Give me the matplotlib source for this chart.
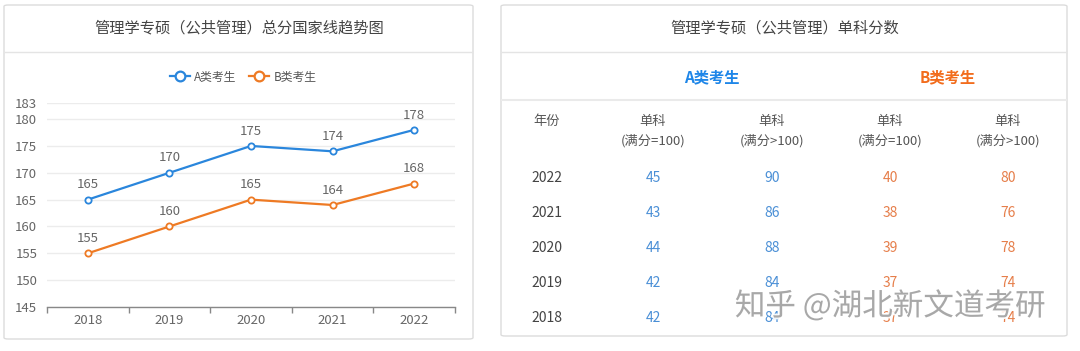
import matplotlib
matplotlib.use("Agg")
import matplotlib.pyplot as plt
from matplotlib.patches import FancyBboxPatch
from matplotlib.lines import Line2D
import matplotlib.patheffects as pe

plt.rcParams['font.family'] = ['Noto Sans CJK SC', 'DejaVu Sans']

# ---- data ----
years = ["2018", "2019", "2020", "2021", "2022"]
a_total = [165, 170, 175, 174, 178]
b_total = [155, 160, 165, 164, 168]
y_ticks = [145, 150, 155, 160, 165, 170, 175, 180, 183]

table_years = ["2022", "2021", "2020", "2019", "2018"]
a_single100 = [45, 43, 44, 42, 42]
a_single_gt100 = [90, 86, 88, 84, 84]
b_single100 = [40, 38, 39, 37, 37]
b_single_gt100 = [80, 76, 78, 74, 74]

left_title = "管理学专硕（公共管理）总分国家线趋势图"
right_title = "管理学专硕（公共管理）单科分数"
series_names = ["A类考生", "B类考生"]
col_header = "单科"
col_subs = ["(满分=100)", "(满分>100)", "(满分=100)", "(满分>100)"]
watermark = "知乎 @湖北新文道考研"

BLUE = "#2a86dc"
ORANGE = "#ee7a24"
TBLUE = "#4a8fd6"
TORANGE = "#e67e4a"
GRAY_TXT = "#555555"

W, H = 1080, 351
fig = plt.figure(figsize=(W / 100, H / 100), dpi=100)
fig.patch.set_facecolor("white")


def fx(x):
    return x / W


def fy(y):
    return 1 - y / H


def card(x0, y0, x1, y1):
    p = FancyBboxPatch((fx(x0), fy(y1)), fx(x1 - x0), (y1 - y0) / H,
                       boxstyle="round,pad=0,rounding_size=0.004",
                       transform=fig.transFigure, facecolor="white",
                       edgecolor="#dcdcdc", linewidth=1.0, zorder=-10)
    fig.patches.append(p)


def hline(x0, x1, y, color="#e4e4e4", lw=1.0):
    fig.lines.append(Line2D([fx(x0), fx(x1)], [fy(y), fy(y)],
                            transform=fig.transFigure, color=color, lw=lw, zorder=-5))


# ---- left card ----
card(4, 5, 473, 339)
hline(5, 472, 52)
fig.text(fx(239), fy(28), left_title, ha="center", va="center",
         fontsize=11, color="#444444")

ax = fig.add_axes([fx(47), fy(307), fx(455 - 47), (307 - 103) / H])
ax.patch.set_alpha(0)
x = list(range(len(years)))
l1, = ax.plot(x, a_total, color=BLUE, lw=1.6, marker="o", ms=4.5,
              mfc="white", mec=BLUE, mew=1.3, zorder=3, label=series_names[0])
l2, = ax.plot(x, b_total, color=ORANGE, lw=1.6, marker="o", ms=4.5,
              mfc="white", mec=ORANGE, mew=1.3, zorder=3, label=series_names[1])
for xs, ys in [(x, a_total), (x, b_total)]:
    for xi, yi in zip(xs, ys):
        ax.annotate(str(yi), (xi, yi), xytext=(0, 6), textcoords="offset points",
                    ha="center", va="bottom", fontsize=9.5, color="#666666")

ax.set_xlim(-0.5, len(years) - 0.5)
ax.set_ylim(145, 183)
ax.set_yticks(y_ticks)
ax.set_yticklabels([str(t) for t in y_ticks])
ax.set_xticks(x)
ax.set_xticklabels(years)
ax.set_xticks([i - 0.5 for i in range(len(years) + 1)], minor=True)
ax.tick_params(axis="x", which="major", length=0, pad=5, labelsize=9.5, labelcolor="#666666")
ax.tick_params(axis="x", which="minor", length=4, width=1, color="#888888", direction="out")
ax.tick_params(axis="y", length=0, pad=7, labelsize=9.5, labelcolor="#666666")
ax.grid(axis="y", color="#ececec", lw=1)
ax.set_axisbelow(True)
for s in ["top", "right", "left"]:
    ax.spines[s].set_visible(False)
ax.spines["bottom"].set_color("#888888")
ax.spines["bottom"].set_linewidth(1.0)

h1 = Line2D([], [], color=BLUE, lw=1.6, marker="o", ms=7, mfc="white", mec=BLUE, mew=1.6)
h2 = Line2D([], [], color=ORANGE, lw=1.6, marker="o", ms=7, mfc="white", mec=ORANGE, mew=1.6)
fig.legend(handles=[h1, h2], labels=series_names, loc="center",
           bbox_to_anchor=(fx(243), fy(77)),
           ncol=2, frameon=False, fontsize=8.5, handlelength=1.7,
           handletextpad=0.4, columnspacing=1.0, labelcolor="#555555")

# ---- right card ----
card(501, 5, 1067, 336)
hline(502, 1066, 52)
hline(502, 1066, 100, color="#eaeaea", lw=1.5)
fig.text(fx(785), fy(28), right_title, ha="center", va="center",
         fontsize=11, color="#444444")
fig.text(fx(712), fy(77), series_names[0], ha="center", va="center",
         fontsize=11, color="#1e86e8", fontweight="bold")
fig.text(fx(948), fy(77), series_names[1], ha="center", va="center",
         fontsize=11, color="#f26c1c", fontweight="bold")

year_x = 547
col_x = [653, 772, 890, 1008]
fig.text(fx(year_x), fy(122), "年份", ha="center", va="center", fontsize=9.5, color=GRAY_TXT)
for cx, sub in zip(col_x, col_subs):
    fig.text(fx(cx), fy(121), col_header, ha="center", va="center", fontsize=9.5, color=GRAY_TXT)
    fig.text(fx(cx), fy(141), sub, ha="center", va="center", fontsize=9.5, color=GRAY_TXT)

row_y = [178, 213, 248, 283, 318]
cols = [(a_single100, TBLUE), (a_single_gt100, TBLUE),
        (b_single100, TORANGE), (b_single_gt100, TORANGE)]
for i, ry in enumerate(row_y):
    fig.text(fx(year_x), fy(ry), table_years[i], ha="center", va="center",
             fontsize=10, color="#444444")
    for cx, (vals, c) in zip(col_x, cols):
        fig.text(fx(cx), fy(ry), str(vals[i]), ha="center", va="center",
                 fontsize=10, color=c)

# watermark
fig.text(fx(890), fy(306), watermark, ha="center", va="center", fontsize=22,
         color="#a0a0a0", alpha=0.9, zorder=10,
         path_effects=[pe.withStroke(linewidth=2.5, foreground="white")])

fig.savefig("out.png", dpi=100, facecolor="white")
